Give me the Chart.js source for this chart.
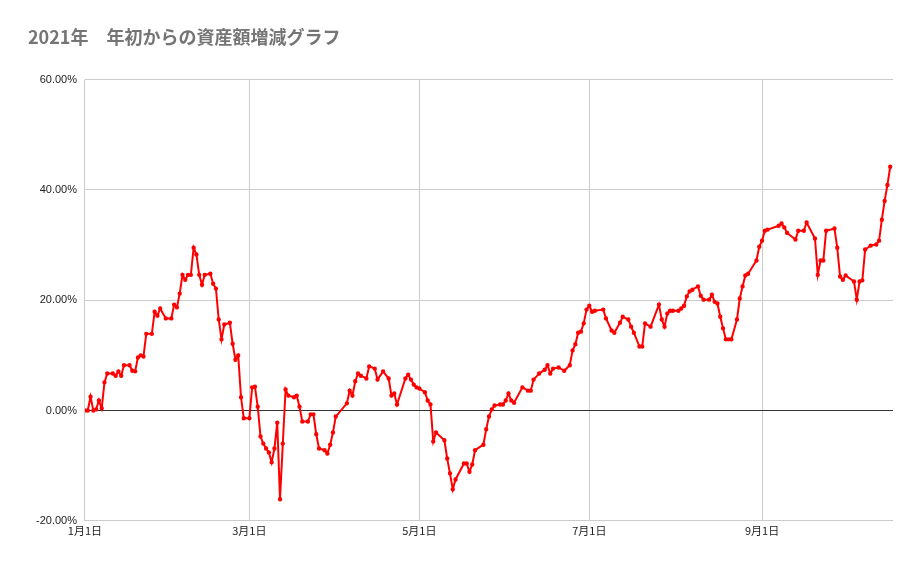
<!DOCTYPE html>
<html><head><meta charset="utf-8">
<script src="https://cdn.jsdelivr.net/npm/chart.js@4"></script>
<style>html,body{margin:0;background:#fff}#w{width:921px;height:569px}</style>
</head><body><div id="w"><canvas id="c"></canvas></div>
<script>
const days=[0,1,2,3,4,5,6,7,8,10,11,12,13,14,16,17,18,19,20,21,22,24,25,26,27,29,31,32,33,34,35,36,37,38,39,40,41,42,43,45,46,47,48,49,50,52,53,54,55,56,57,59,60,61,62,63,64,65,66,67,68,69,70,71,72,73,75,76,77,78,80,81,82,83,84,86,87,88,89,90,94,95,96,97,98,99,101,102,104,105,107,109,110,111,112,115,116,117,118,119,120,122,123,124,125,126,129,130,131,132,133,136,137,138,139,140,143,144,145,146,147,149,150,151,152,153,154,157,159,160,161,163,165,166,167,168,170,172,174,175,176,177,178,179,180,181,182,183,186,187,189,190,192,193,195,196,197,199,200,201,203,206,207,208,209,210,211,213,214,215,216,217,218,220,221,222,224,225,226,227,228,229,230,231,232,234,235,236,237,238,241,242,243,244,245,249,250,251,252,255,256,258,259,262,263,264,265,266,269,270,271,272,273,276,277,278,279,280,282,284,285,286,287,288,289];
const values=[0,0,2.5,0,0.2,1.8,0.4,5.1,6.7,6.7,6.3,7.1,6.3,8.2,8.2,7.2,7.1,9.6,10.0,9.8,13.9,13.9,17.9,17.2,18.5,16.7,16.7,19.2,18.7,21.2,24.6,23.7,24.6,24.6,29.5,28.3,24.6,22.8,24.6,24.8,23.0,22.1,16.5,12.9,15.6,15.9,12.1,9.2,10.0,2.4,-1.4,-1.4,4.2,4.3,0.7,-4.7,-6.0,-6.9,-7.6,-9.4,-6.9,-2.2,-16.1,-6.0,3.8,2.7,2.4,2.7,0.7,-2.0,-2.0,-0.7,-0.7,-4.3,-6.9,-7.2,-7.8,-6.2,-4.0,-1.1,1.3,3.6,2.7,5.3,6.7,6.3,5.8,8.0,7.6,5.6,7.1,5.8,2.7,3.1,1.1,5.8,6.5,5.6,4.7,4.2,4.0,3.3,1.8,1.1,-5.6,-4.0,-5.4,-8.7,-11.4,-14.3,-12.5,-9.6,-9.6,-11.1,-9.8,-7.2,-6.2,-3.4,-1.1,0.2,0.9,1.1,1.1,1.8,3.1,1.8,1.4,4.2,3.6,3.6,5.6,6.7,7.4,8.2,6.7,7.6,7.8,7.2,8.2,10.9,12.0,14.1,14.3,15.8,18.3,19.0,17.9,18.1,18.3,16.7,14.5,14.1,15.9,17.0,16.5,15.2,14.1,11.6,11.6,15.8,15.2,19.2,16.5,15.2,17.6,18.1,18.1,18.1,18.5,19.0,20.7,21.6,21.9,22.5,20.8,20.1,20.1,21.0,19.7,19.4,17.0,14.9,12.9,12.9,12.9,16.5,20.3,22.5,24.5,24.8,27.2,29.7,30.8,32.6,32.8,33.5,33.9,33.2,32.2,31.0,32.6,32.6,34.1,31.2,24.6,27.2,27.2,32.6,33.0,29.5,24.3,23.7,24.5,23.4,20.1,23.4,23.6,29.2,29.9,30.1,30.8,34.6,38.0,40.9,44.2];
const tickDays=[0,59,120,181,243];
const tickLabels=['1月1日','3月1日','5月1日','7月1日','9月1日'];
const yTicks=[-20,0,20,40,60];
const pts=days.map((d,i)=>({x:d,y:values[i]}));
new Chart(document.getElementById('c'),{
type:'line',
data:{datasets:[{data:pts,borderColor:'#ff0000',backgroundColor:'#ff0000',borderWidth:2,pointRadius:1.2,pointHoverRadius:2,tension:0}]},
options:{responsive:true,maintainAspectRatio:false,animation:false,
layout:{padding:{left:28,right:28,top:8,bottom:29}},
plugins:{legend:{display:false},tooltip:{enabled:false},
title:{display:true,text:'2021年　年初からの資産額増減グラフ',align:'start',color:'#757575',font:{family:'Noto Sans CJK JP',size:18,weight:'bold'},padding:{top:18,bottom:32}}},
scales:{
x:{type:'linear',min:0,max:290,
afterBuildTicks:a=>{a.ticks=tickDays.map(v=>({value:v}));},
ticks:{autoSkip:false,maxRotation:0,color:'#222',font:{family:'Noto Sans CJK JP',size:11},callback:v=>tickLabels[tickDays.indexOf(v)]},
grid:{color:'#cccccc',drawTicks:false},border:{display:false}},
y:{min:-20,max:60,
afterBuildTicks:a=>{a.ticks=yTicks.map(v=>({value:v}));},
ticks:{color:'#222',padding:8,font:{family:'Arial',size:11},callback:v=>v.toFixed(2)+'%'},
grid:{color:c=>c.tick&&c.tick.value===0?'#333333':'#cccccc',drawTicks:false},border:{display:false}}
}}});
</script></body></html>
